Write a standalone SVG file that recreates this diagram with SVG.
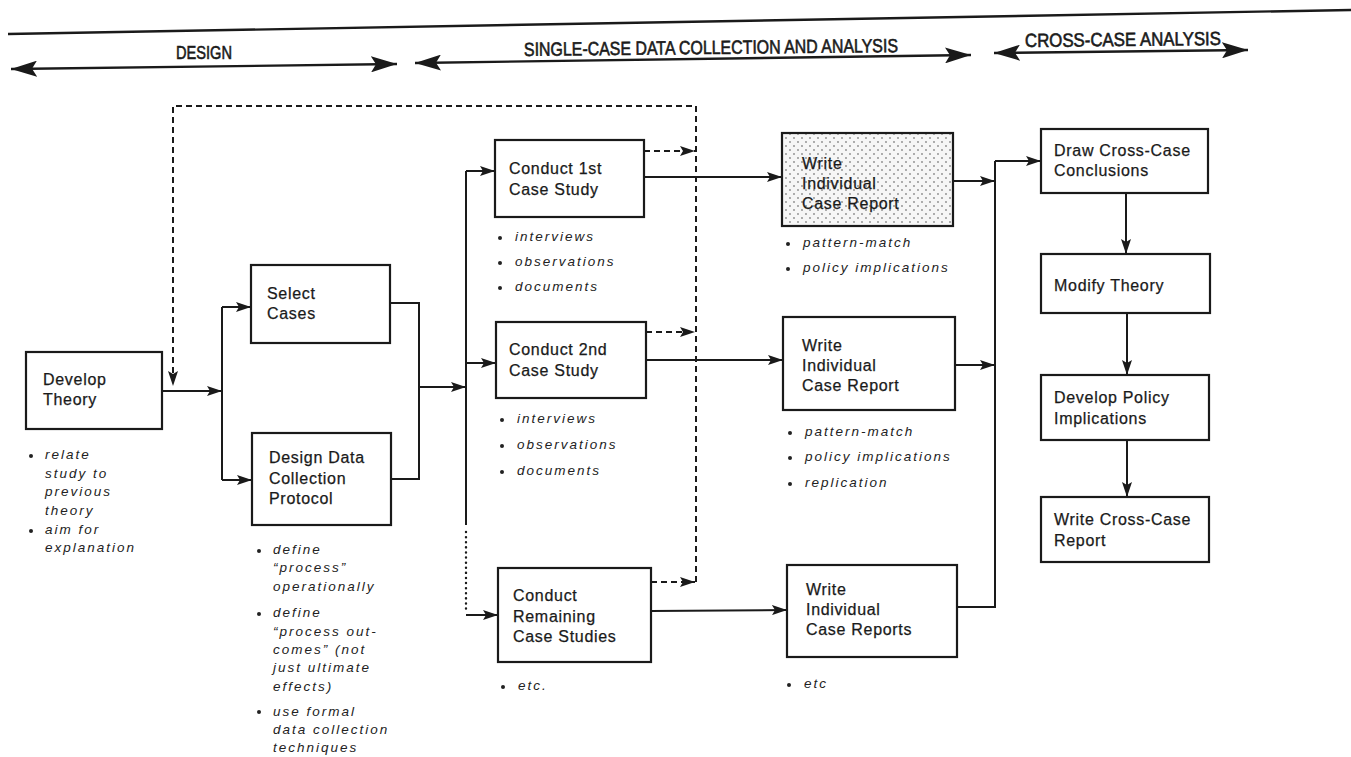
<svg xmlns="http://www.w3.org/2000/svg" width="1351" height="757" viewBox="0 0 1351 757">
<style>
.box{fill:#fff;stroke:#1a1a1a;stroke-width:2.2}
.shaded{fill:url(#dots);stroke:#1a1a1a;stroke-width:2.2}
.t{font-family:"Liberation Sans",Arial,sans-serif;font-size:16px;letter-spacing:0.7px;fill:#1a1a1a;stroke:#1a1a1a;stroke-width:0.25}
.b{font-family:"Liberation Sans",Arial,sans-serif;font-size:13.5px;font-style:italic;letter-spacing:2px;fill:#222}
.h{font-family:"Liberation Sans",Arial,sans-serif;font-size:19px;fill:#1a1a1a;stroke:#1a1a1a;stroke-width:0.6}
.c{fill:none;stroke:#1a1a1a;stroke-width:2}
.d{fill:none;stroke:#1a1a1a;stroke-width:2;stroke-dasharray:6 4}
.o{fill:none;stroke:#1a1a1a;stroke-width:2.4;stroke-dasharray:0.1 5;stroke-linecap:round}
.hd{fill:none;stroke:#1a1a1a;stroke-width:2.4}
.dot{fill:#222}
</style>
<defs>
<marker id="ah" viewBox="0 0 15 10" refX="15" refY="5" markerWidth="15" markerHeight="10" markerUnits="userSpaceOnUse" orient="auto">
<path d="M0,0 L15,5 L0,10 L3,5 Z" fill="#1a1a1a"/>
</marker>
<marker id="hh" viewBox="0 0 26 16" refX="26" refY="8" markerWidth="26" markerHeight="16" markerUnits="userSpaceOnUse" orient="auto">
<path d="M0,0 L26,8 L0,16 L5,8 Z" fill="#1a1a1a"/>
</marker>
<marker id="hs" viewBox="0 0 26 16" refX="26" refY="8" markerWidth="26" markerHeight="16" markerUnits="userSpaceOnUse" orient="auto-start-reverse">
<path d="M0,0 L26,8 L0,16 L5,8 Z" fill="#1a1a1a"/>
</marker>
<pattern id="dots" width="8" height="8" patternUnits="userSpaceOnUse">
<rect width="8" height="8" fill="#f6f6f6"/>
<circle cx="2" cy="2" r="0.9" fill="#8a8a8a"/>
<circle cx="6" cy="6" r="0.9" fill="#8a8a8a"/>
</pattern>
</defs>

<g id="header">
<line x1="8" y1="34" x2="1351" y2="10" class="hd"/>
<line x1="11" y1="69" x2="397" y2="64" class="hd" marker-start="url(#hs)" marker-end="url(#hh)"/>
<line x1="415" y1="63" x2="971" y2="55" class="hd" marker-start="url(#hs)" marker-end="url(#hh)"/>
<line x1="994" y1="53" x2="1248" y2="50" class="hd" marker-start="url(#hs)" marker-end="url(#hh)"/>
<text class="h" x="176" y="59" textLength="56" lengthAdjust="spacingAndGlyphs">DESIGN</text>
<text class="h" x="524" y="54" textLength="374" lengthAdjust="spacingAndGlyphs" transform="rotate(-0.6 711 52)">SINGLE-CASE DATA COLLECTION AND ANALYSIS</text>
<text class="h" x="1025" y="46" textLength="196" lengthAdjust="spacingAndGlyphs" transform="rotate(-0.6 1123 44)">CROSS-CASE ANALYSIS</text>
</g>

<g id="connectors">
<line x1="162" y1="391" x2="222" y2="391" class="c" marker-end="url(#ah)"/>
<line x1="222" y1="307" x2="222" y2="480" class="c"/>
<line x1="222" y1="307" x2="251" y2="307" class="c" marker-end="url(#ah)"/>
<line x1="222" y1="480" x2="252" y2="480" class="c" marker-end="url(#ah)"/>
<polyline points="390,303 419,303 419,479 391,479" class="c"/>
<line x1="419" y1="387" x2="466" y2="387" class="c" marker-end="url(#ah)"/>
<line x1="466" y1="171" x2="466" y2="525" class="c"/>
<line x1="466" y1="532" x2="466" y2="612" class="o"/>
<line x1="466" y1="171" x2="495" y2="171" class="c" marker-end="url(#ah)"/>
<line x1="466" y1="363" x2="496" y2="363" class="c" marker-end="url(#ah)"/>
<line x1="466" y1="615" x2="498" y2="615" class="c" marker-end="url(#ah)"/>
<line x1="644" y1="177" x2="782" y2="177" class="c" marker-end="url(#ah)"/>
<line x1="646" y1="360" x2="783" y2="360" class="c" marker-end="url(#ah)"/>
<line x1="651" y1="611" x2="787" y2="610" class="c" marker-end="url(#ah)"/>
<polyline points="696,582 696,106 173,106 173,386" class="d" marker-end="url(#ah)"/>
<line x1="644" y1="151" x2="695" y2="151" class="d" marker-end="url(#ah)"/>
<line x1="646" y1="332" x2="695" y2="332" class="d" marker-end="url(#ah)"/>
<line x1="651" y1="582" x2="695" y2="582" class="d" marker-end="url(#ah)"/>
<line x1="953" y1="181" x2="995" y2="181" class="c" marker-end="url(#ah)"/>
<line x1="955" y1="365" x2="995" y2="365" class="c" marker-end="url(#ah)"/>
<polyline points="957,607 995,607 995,161" class="c"/>
<line x1="995" y1="161" x2="1041" y2="161" class="c" marker-end="url(#ah)"/>
<line x1="1126" y1="193" x2="1126" y2="254" class="c" marker-end="url(#ah)"/>
<line x1="1127" y1="313" x2="1127" y2="375" class="c" marker-end="url(#ah)"/>
<line x1="1127" y1="440" x2="1127" y2="497" class="c" marker-end="url(#ah)"/>
</g>

<g id="develop-theory">
<rect x="26" y="352" width="136" height="77" class="box"/>
<text class="t" x="43" y="385">Develop</text>
<text class="t" x="43" y="405">Theory</text>
<circle class="dot" cx="31" cy="456" r="2"/>
<text class="b" x="45" y="459">relate</text>
<text class="b" x="45" y="478">study to</text>
<text class="b" x="45" y="496">previous</text>
<text class="b" x="45" y="515">theory</text>
<circle class="dot" cx="31" cy="531" r="2"/>
<text class="b" x="45" y="534">aim for</text>
<text class="b" x="45" y="552">explanation</text>
</g>

<g id="select-cases">
<rect x="251" y="265" width="139" height="78" class="box"/>
<text class="t" x="267" y="299">Select</text>
<text class="t" x="267" y="319">Cases</text>
</g>

<g id="design-protocol">
<rect x="252" y="433" width="139" height="92" class="box"/>
<text class="t" x="269" y="463">Design Data</text>
<text class="t" x="269" y="484">Collection</text>
<text class="t" x="269" y="504">Protocol</text>
<circle class="dot" cx="259" cy="551" r="2"/>
<text class="b" x="273" y="554">define</text>
<text class="b" x="273" y="572">“process”</text>
<text class="b" x="273" y="591">operationally</text>
<circle class="dot" cx="259" cy="614" r="2"/>
<text class="b" x="273" y="617">define</text>
<text class="b" x="273" y="636">“process out-</text>
<text class="b" x="273" y="654">comes” (not</text>
<text class="b" x="273" y="672">just ultimate</text>
<text class="b" x="273" y="691">effects)</text>
<circle class="dot" cx="259" cy="712" r="2"/>
<text class="b" x="273" y="716">use formal</text>
<text class="b" x="273" y="734">data collection</text>
<text class="b" x="273" y="752">techniques</text>
</g>

<g id="conduct-1st">
<rect x="495" y="140" width="149" height="77" class="box"/>
<text class="t" x="509" y="174">Conduct 1st</text>
<text class="t" x="509" y="195">Case Study</text>
<circle class="dot" cx="500" cy="238" r="2"/>
<text class="b" x="515" y="241">interviews</text>
<circle class="dot" cx="500" cy="263" r="2"/>
<text class="b" x="515" y="266">observations</text>
<circle class="dot" cx="500" cy="288" r="2"/>
<text class="b" x="515" y="291">documents</text>
</g>

<g id="conduct-2nd">
<rect x="496" y="322" width="150" height="76" class="box"/>
<text class="t" x="509" y="355">Conduct 2nd</text>
<text class="t" x="509" y="376">Case Study</text>
<circle class="dot" cx="502" cy="420" r="2"/>
<text class="b" x="517" y="423">interviews</text>
<circle class="dot" cx="502" cy="446" r="2"/>
<text class="b" x="517" y="449">observations</text>
<circle class="dot" cx="502" cy="472" r="2"/>
<text class="b" x="517" y="475">documents</text>
</g>

<g id="conduct-remaining">
<rect x="498" y="568" width="153" height="94" class="box"/>
<text class="t" x="513" y="601">Conduct</text>
<text class="t" x="513" y="622">Remaining</text>
<text class="t" x="513" y="642">Case Studies</text>
<circle class="dot" cx="503" cy="687" r="2"/>
<text class="b" x="518" y="690">etc.</text>
</g>

<g id="write-report-1">
<rect x="782" y="133" width="171" height="93" class="shaded"/>
<text class="t" x="802" y="169">Write</text>
<text class="t" x="802" y="189">Individual</text>
<text class="t" x="802" y="209">Case Report</text>
<circle class="dot" cx="788" cy="244" r="2"/>
<text class="b" x="803" y="247">pattern-match</text>
<circle class="dot" cx="788" cy="269" r="2"/>
<text class="b" x="803" y="272">policy implications</text>
</g>

<g id="write-report-2">
<rect x="783" y="317" width="172" height="93" class="box"/>
<text class="t" x="802" y="351">Write</text>
<text class="t" x="802" y="371">Individual</text>
<text class="t" x="802" y="391">Case Report</text>
<circle class="dot" cx="790" cy="433" r="2"/>
<text class="b" x="805" y="436">pattern-match</text>
<circle class="dot" cx="790" cy="458" r="2"/>
<text class="b" x="805" y="461">policy implications</text>
<circle class="dot" cx="790" cy="484" r="2"/>
<text class="b" x="805" y="487">replication</text>
</g>

<g id="write-reports">
<rect x="787" y="565" width="170" height="92" class="box"/>
<text class="t" x="806" y="595">Write</text>
<text class="t" x="806" y="615">Individual</text>
<text class="t" x="806" y="635">Case Reports</text>
<circle class="dot" cx="789" cy="685" r="2"/>
<text class="b" x="804" y="688">etc</text>
</g>

<g id="draw-conclusions">
<rect x="1041" y="129" width="167" height="64" class="box"/>
<text class="t" x="1054" y="156">Draw Cross-Case</text>
<text class="t" x="1054" y="176">Conclusions</text>
</g>

<g id="modify-theory">
<rect x="1041" y="254" width="169" height="59" class="box"/>
<text class="t" x="1054" y="291">Modify Theory</text>
</g>

<g id="develop-policy">
<rect x="1041" y="375" width="168" height="65" class="box"/>
<text class="t" x="1054" y="403">Develop Policy</text>
<text class="t" x="1054" y="424">Implications</text>
</g>

<g id="write-cross-case">
<rect x="1041" y="497" width="168" height="65" class="box"/>
<text class="t" x="1054" y="525">Write Cross-Case</text>
<text class="t" x="1054" y="546">Report</text>
</g>
</svg>
